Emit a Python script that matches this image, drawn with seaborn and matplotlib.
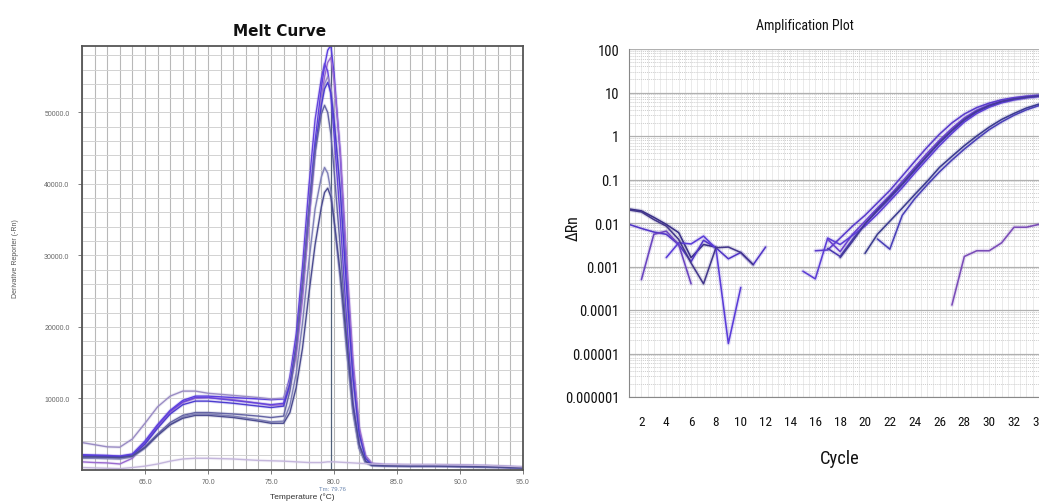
import os
import numpy as np
import pandas as pd
import matplotlib
matplotlib.use("Agg")
import matplotlib.pyplot as plt
import matplotlib.font_manager as fm
from matplotlib.font_manager import FontProperties
import seaborn as sns
from matplotlib.ticker import FixedLocator, LogLocator, NullFormatter, MultipleLocator

# ---------------- Melt curve data ----------------
temps = [60, 61, 62, 63, 64, 65, 66, 67, 68, 69, 70, 72, 74, 75, 76, 76.5, 77, 77.5, 78, 78.5,
         79, 79.25, 79.5, 79.75, 80, 80.5, 81, 81.5, 82, 82.5, 83, 84, 86, 88, 90, 92, 95]

melt_a = [2100, 2050, 2000, 1900, 2200, 4000, 6300, 8300, 9700, 10300, 10300, 10100, 9900, 9800, 9900, 12500,
          17000, 25000, 36000, 46000, 53500, 56500, 58700, 59400, 55500, 44000, 28000, 14600, 5500, 1800,
          800, 650, 600, 600, 550, 500, 300]
melt_b = [1100, 1000, 950, 800, 1600, 3600, 6000, 8000, 9400, 10000, 10100, 9800, 9300, 9000, 9100, 11500,
          16000, 24000, 34500, 44500, 52000, 55000, 57000, 57700, 54500, 44500, 29500, 15500, 6000, 2000,
          900, 700, 650, 650, 600, 550, 300]
melt_c = [2000, 1950, 1900, 1850, 2100, 3900, 6200, 8200, 9500, 10100, 10100, 9700, 9300, 9100, 9300, 13000,
          19000, 28500, 39500, 49000, 54800, 56800, 55800, 52500, 47000, 35000, 21000, 9500, 3500, 1200,
          700, 600, 550, 550, 500, 450, 250]
melt_d = [3800, 3500, 3200, 3150, 4300, 6500, 8800, 10300, 11000, 11000, 10700, 10400, 10100, 9900, 10000, 12500,
          17500, 25500, 35500, 44500, 51500, 54000, 55000, 53500, 49500, 39000, 25000, 12500, 5000, 1700,
          800, 700, 650, 650, 600, 550, 350]
melt_e = [1900, 1900, 1850, 1800, 2000, 3600, 5800, 7800, 9100, 9600, 9600, 9300, 8900, 8700, 8900, 12000,
          17500, 26000, 36000, 45000, 51000, 53300, 54200, 52800, 49000, 39000, 25500, 13000, 5000, 1600,
          700, 600, 550, 550, 500, 450, 250]
melt_f = [1700, 1700, 1650, 1600, 1900, 3200, 5000, 6600, 7600, 8000, 8000, 7800, 7500, 7300, 7500, 11000,
          17000, 26000, 36000, 44500, 49800, 51000, 50000, 47000, 42000, 31000, 18500, 8500, 3000, 1000,
          600, 550, 500, 500, 450, 400, 250]
melt_g = [1600, 1600, 1550, 1500, 1800, 3000, 4800, 6300, 7400, 7800, 7800, 7500, 7000, 6700, 6800, 9000,
          13500, 20500, 29000, 36500, 41000, 42300, 41500, 39000, 35000, 26500, 16500, 8000, 3000, 1000,
          600, 550, 500, 500, 450, 400, 250]
melt_h = [1800, 1800, 1750, 1700, 1900, 3100, 4800, 6300, 7200, 7600, 7600, 7300, 6800, 6500, 6500, 8000,
          11500, 17000, 24500, 31500, 36800, 38800, 39400, 38200, 35000, 27500, 18000, 9000, 3500, 1200,
          600, 550, 500, 500, 450, 400, 250]
melt_i = [300, 250, 200, 150, 300, 500, 800, 1200, 1500, 1600, 1600, 1500, 1300, 1250, 1200, 1150,
          1100, 1050, 1000, 1000, 1000, 1050, 1100, 1100, 1100, 1050, 1000, 950, 900, 850,
          800, 750, 700, 700, 650, 600, 400]

melt_series = {"A": melt_a, "B": melt_b, "C": melt_c, "D": melt_d, "E": melt_e,
               "F": melt_f, "G": melt_g, "H": melt_h, "I": melt_i}
melt_colors = {"A": "#5a3ee0", "B": "#9a6ad0", "C": "#6444dc", "D": "#9a8cc4", "E": "#4c3cd0",
               "F": "#6464a4", "G": "#8080b8", "H": "#4c4c90", "I": "#c4b6dc"}

x_ticks_melt = [65, 70, 75, 80, 85, 90, 95]
y_ticks_melt = [10000, 20000, 30000, 40000, 50000]
tm_value = 79.76

# ---------------- Amplification data ----------------
amp_series = {
    "E1": ([1, 2, 3, 4, 5, 6, 7, 8], [0.021, 0.019, 0.0135, 0.0093, 0.006, 0.0016, 0.0032, 0.0028]),
    "E2": ([1, 2, 3, 4, 5, 6, 7, 8, 9, 10, 11, 12],
           [0.0093, 0.0075, 0.0062, 0.0055, 0.0032, 0.0013, 0.0040, 0.0027, 0.0015, 0.0021, 0.0011, 0.0028]),
    "E3": ([2, 3, 4, 5, 6], [0.0005, 0.0055, 0.0065, 0.0032, 0.0004]),
    "E4": ([4, 5, 6, 7, 8, 9, 10], [0.0016, 0.0035, 0.0033, 0.0050, 0.0026, 0.000017, 0.00033]),
    "E5": ([1, 2, 3, 4, 5, 6, 7, 8, 9, 10, 11],
           [0.020, 0.018, 0.012, 0.0085, 0.0042, 0.0012, 0.0004, 0.0027, 0.0028, 0.0021, 0.0011]),
    "A1": (list(range(16, 35)),
           [0.0023, 0.0024, 0.0045, 0.0085, 0.015, 0.029, 0.056, 0.12, 0.26, 0.55, 1.1, 2.0, 3.2, 4.5,
            5.7, 6.8, 7.6, 8.2, 8.6]),
    "A2": (list(range(17, 35)),
           [0.0042, 0.0022, 0.0055, 0.011, 0.022, 0.043, 0.09, 0.19, 0.4, 0.8, 1.5, 2.6, 3.9, 5.2,
            6.3, 7.2, 7.9, 8.4]),
    "A3": (list(range(17, 35)),
           [0.0026, 0.0017, 0.0042, 0.0095, 0.019, 0.037, 0.076, 0.16, 0.34, 0.7, 1.3, 2.3, 3.6, 4.9,
            6.1, 7.0, 7.7, 8.3]),
    "A4": (list(range(15, 35)),
           [0.00078, 0.00052, 0.0045, 0.0032, 0.0052, 0.0085, 0.016, 0.032, 0.065, 0.14, 0.29, 0.6,
            1.15, 2.1, 3.3, 4.6, 5.8, 6.8, 7.6, 8.2]),
    "A5": (list(range(18, 35)),
           [0.0016, 0.0038, 0.0095, 0.02, 0.04, 0.08, 0.17, 0.35, 0.72, 1.35, 2.4, 3.7, 5.0, 6.2,
            7.1, 7.8, 8.3]),
    "B1": (list(range(20, 35)),
           [0.002, 0.0055, 0.011, 0.022, 0.045, 0.09, 0.19, 0.34, 0.6, 1.0, 1.6, 2.4, 3.3, 4.4, 5.4]),
    "B2": (list(range(21, 35)),
           [0.0043, 0.0025, 0.015, 0.036, 0.075, 0.15, 0.28, 0.5, 0.85, 1.4, 2.1, 3.0, 4.0, 5.0]),
    "L1": (list(range(27, 35)), [0.00013, 0.0017, 0.0023, 0.0023, 0.0035, 0.008, 0.008, 0.0093]),
}
amp_colors = {"E1": "#3a3088", "E2": "#5236c8", "E3": "#6a44c0", "E4": "#5a3cd8", "E5": "#44388c",
              "A1": "#5a3ccc", "A2": "#6a40d0", "A3": "#4a38b0", "A4": "#5c3ed6", "A5": "#443a98",
              "B1": "#3c3c90", "B2": "#4a40b8", "L1": "#7a4cb8"}
amp_yticks = [1e-6, 1e-5, 1e-4, 1e-3, 1e-2, 1e-1, 1, 10, 100]
amp_ytick_labels = ["0.000001", "0.00001", "0.0001", "0.001", "0.01", "0.1", "1", "10", "100"]
amp_xticks = list(range(2, 35, 2))

# ---------------- Fonts ----------------
sns.set_style("white")
plt.rcParams["font.family"] = ["Liberation Sans", "DejaVu Sans"]

prefs = [("liberationsansnarrow-regular", 1.0), ("notosans-extracondensed.", 1.1),
         ("robotocondensed-regular", 0.95), ("notosans-condensed.", 0.92),
         ("opensans-condensedlight", 0.92), ("dejavusanscondensed.", 0.85)]
files = {os.path.basename(f.fname).lower(): f.fname for f in fm.fontManager.ttflist}
cond_file, cond_scale = None, 0.8
for pat, sc in prefs:
    hit = [v for k, v in files.items() if k.startswith(pat)]
    if hit:
        cond_file, cond_scale = hit[0], sc
        break


def narrow_fp(size):
    if cond_file is not None:
        fp = FontProperties(fname=cond_file)
        fp.set_size(size * cond_scale)
    else:
        fp = FontProperties(family=["Liberation Sans", "DejaVu Sans"], size=size * 0.8)
    return fp


# ---------------- Figure ----------------
W, H = 1039, 502
fig = plt.figure(figsize=(W / 100, H / 100), dpi=100)
fig.patch.set_facecolor("white")


def fx(px):
    return px / W


def fy(py):
    return 1 - py / H


# Left: melt curve
axL = fig.add_axes([fx(82), fy(470.7), fx(523) - fx(82), fy(47) - fy(470.7)])
rows = []
for k, v in melt_series.items():
    for t, d in zip(temps, v):
        rows.append({"Temperature": t, "Deriv": d, "well": k})
dfm = pd.DataFrame(rows)
sns.lineplot(data=dfm, x="Temperature", y="Deriv", hue="well", palette=melt_colors, legend=False,
             ax=axL, linewidth=2.4, alpha=0.16, estimator=None)
sns.lineplot(data=dfm, x="Temperature", y="Deriv", hue="well", palette=melt_colors, legend=False,
             ax=axL, linewidth=1.0, estimator=None)
axL.axvline(tm_value, color="#50607a", lw=0.9, zorder=1)
axL.set_xlim(60, 95)
axL.set_ylim(0, 59300)
axL.xaxis.set_major_locator(FixedLocator(x_ticks_melt))
axL.xaxis.set_minor_locator(MultipleLocator(1))
axL.yaxis.set_major_locator(FixedLocator(y_ticks_melt))
axL.yaxis.set_minor_locator(MultipleLocator(2000))
axL.set_xticklabels([f"{t:.1f}" for t in x_ticks_melt])
axL.set_yticklabels([f"{t:.1f}" for t in y_ticks_melt])
axL.grid(which="both", axis="x", color="#b8b8b8", lw=0.8)
axL.grid(which="both", axis="y", color="#d2d2d2", lw=0.7)
axL.set_axisbelow(True)
axL.tick_params(axis="both", which="major", labelsize=5, colors="#666666", length=3, width=0.6,
                direction="out", left=True, bottom=True)
axL.tick_params(axis="x", which="major", pad=3)
axL.tick_params(axis="y", which="major", pad=6)
axL.tick_params(axis="both", which="minor", length=0)
for s in axL.spines.values():
    s.set_color("#555555")
    s.set_linewidth(1.3)
axL.set_xlabel("")
axL.set_ylabel("")
fig.text(fx(16), fy(259), "Derivative Reporter (-Rn)", rotation=90, fontsize=5, color="#555555",
         ha="center", va="center")
fig.text(fx(302), fy(497), "Temperature (\u00b0C)", fontsize=6, color="#333333", ha="center", va="center")
fig.text(fx(332), fy(490), "Tm: 79.76", fontsize=4.3, color="#6a86b0", ha="center", va="center")
fig.text(fx(280), fy(32), "Melt Curve", fontsize=11, fontweight="bold", family="DejaVu Sans",
         color="#111111", ha="center", va="center")

# Right: amplification plot (extends beyond the figure edge, as in the reference)
axR = fig.add_axes([fx(629), fy(398), fx(39 * 12.42), fy(50) - fy(398)])
rows = []
for k, (cx, cv) in amp_series.items():
    for c, v in zip(cx, cv):
        rows.append({"Cycle": c, "dRn": v, "well": k})
dfa = pd.DataFrame(rows)
axR.set_yscale("log")
sns.lineplot(data=dfa, x="Cycle", y="dRn", hue="well", palette=amp_colors, legend=False,
             ax=axR, linewidth=3.0, alpha=0.15, estimator=None)
sns.lineplot(data=dfa, x="Cycle", y="dRn", hue="well", palette=amp_colors, legend=False,
             ax=axR, linewidth=1.15, estimator=None)
axR.set_xlim(1, 40)
axR.set_ylim(1e-6, 100)
axR.yaxis.set_major_locator(FixedLocator(amp_yticks))
axR.set_yticklabels(amp_ytick_labels)
axR.yaxis.set_minor_locator(LogLocator(base=10, subs=np.arange(2, 10)))
axR.yaxis.set_minor_formatter(NullFormatter())
axR.xaxis.set_major_locator(FixedLocator(amp_xticks))
axR.xaxis.set_minor_locator(MultipleLocator(0.5))
axR.grid(which="major", axis="y", color="#b0b0b0", lw=0.9)
axR.grid(which="minor", axis="y", color="#cdcdcd", lw=0.7, linestyle=(0, (1, 1)))
axR.grid(which="both", axis="x", color="#e6e6e6", lw=0.6)
axR.set_axisbelow(True)
axR.tick_params(axis="y", which="major", colors="#111111", length=5, width=0.8, pad=2)
axR.tick_params(axis="x", which="major", colors="#111111", length=0, pad=13)
axR.tick_params(axis="both", which="minor", length=0)
for lab in axR.get_yticklabels():
    lab.set_fontproperties(narrow_fp(11))
for lab in axR.get_xticklabels():
    lab.set_fontproperties(narrow_fp(10))
axR.spines["right"].set_visible(False)
axR.spines["top"].set_visible(False)
axR.spines["left"].set_color("#888888")
axR.spines["bottom"].set_color("#888888")
axR.set_xlabel("")
axR.set_ylabel("")
fig.text(fx(805), fy(26), "Amplification Plot", fontproperties=narrow_fp(10.5), color="#111111",
         ha="center", va="center")
fig.text(fx(840), fy(459), "Cycle", fontproperties=narrow_fp(14), color="#111111", ha="center", va="center")
fig.text(fx(573), fy(228), "\u0394Rn", fontproperties=narrow_fp(12), rotation=90, color="#111111",
         ha="center", va="center")

fig.savefig("out.png", dpi=100)
